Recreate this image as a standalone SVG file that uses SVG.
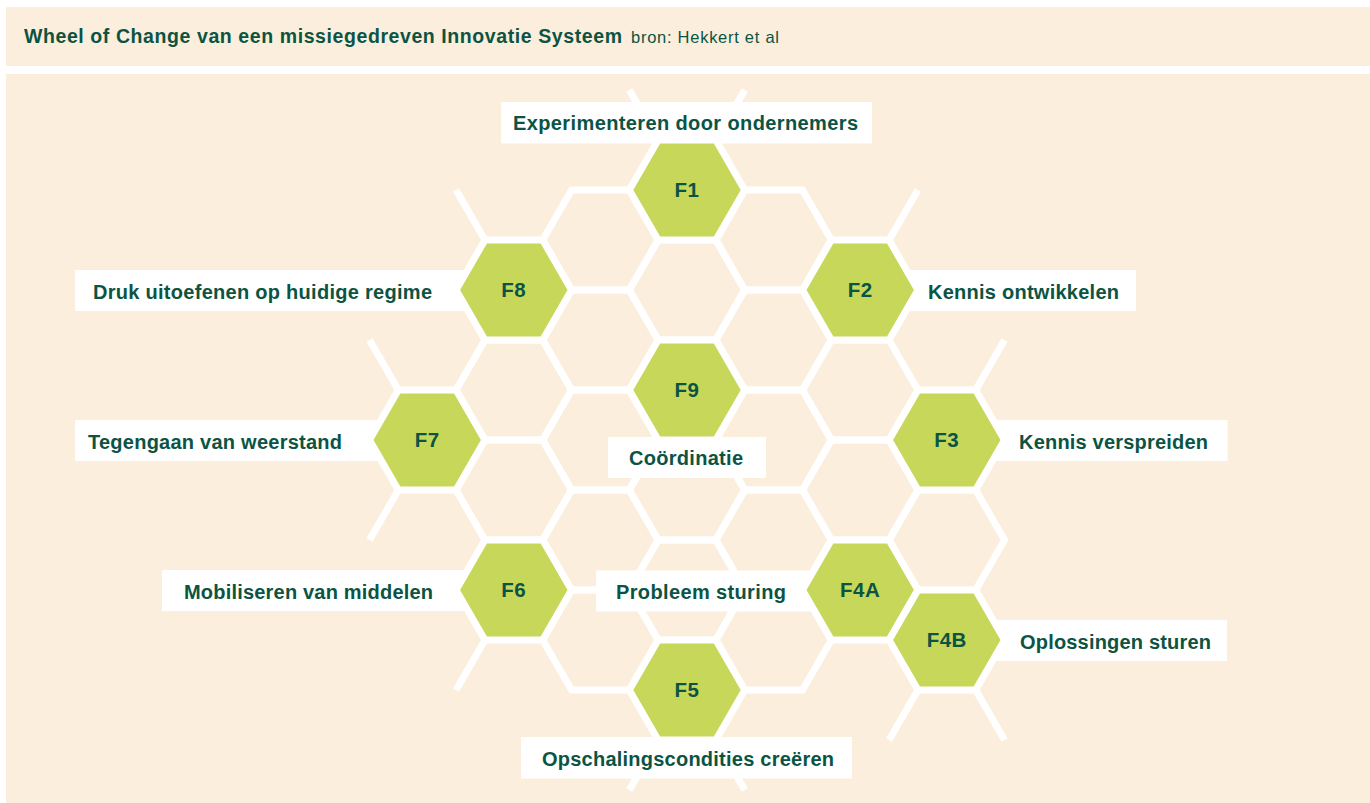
<svg xmlns="http://www.w3.org/2000/svg" xmlns:xlink="http://www.w3.org/1999/xlink" width="1370" height="803" viewBox="0 0 1370 803">
<style>
.panel{fill:#FBEEDC}
.box{fill:#FFFFFF}
.cell{fill:none;stroke:#FFFFFF;stroke-width:7;stroke-linejoin:miter}
.green{fill:#C6D75A;stroke:#FFFFFF;stroke-width:7;stroke-linejoin:miter}
.spoke{stroke:#FFFFFF;stroke-width:7;fill:none}
.lbl{font-family:"Liberation Sans",Arial,sans-serif;font-weight:bold;font-size:20px;fill:#0B5443}
.fl{font-family:"Liberation Sans",Arial,sans-serif;font-weight:bold;font-size:20.5px;fill:#0B5443;text-anchor:middle;letter-spacing:0.5px}
.title{font-family:"Liberation Sans",Arial,sans-serif;font-weight:bold;font-size:19.5px;fill:#0B5443}
.src{font-family:"Liberation Sans",Arial,sans-serif;font-size:16.5px;fill:#0B5443}
</style>
<defs>
<path id="hex" d="M-57.735,0 L-28.868,-50 L28.868,-50 L57.735,0 L28.868,50 L-28.868,50 Z"/>
</defs>
<rect width="1370" height="803" fill="#FFFFFF"/>
<rect class="panel" x="6" y="7" width="1364" height="59"/>
<rect class="panel" x="6" y="74" width="1364" height="729"/>
<g id="title">
<text class="title" x="24" y="43" textLength="598" lengthAdjust="spacing">Wheel of Change van een missiegedreven Innovatie Systeem</text>
<text class="src" x="631" y="43" textLength="148" lengthAdjust="spacing">bron: Hekkert et al</text>
</g>
<g id="label-boxes">
<rect class="box" x="501" y="102" width="371" height="41.5"/>
<rect class="box" x="75" y="270" width="405" height="41"/>
<rect class="box" x="890" y="270" width="246" height="41"/>
<rect class="box" x="75" y="420" width="325" height="41"/>
<rect class="box" x="975" y="420" width="252.5" height="41"/>
<rect class="box" x="608" y="437" width="158" height="41"/>
<rect class="box" x="162" y="570" width="318" height="41"/>
<rect class="box" x="596" y="570.5" width="234" height="41"/>
<rect class="box" x="975" y="620" width="252" height="41"/>
<rect class="box" x="521" y="737" width="331" height="41.5"/>
</g>
<g id="connectors">
<use xlink:href="#hex" class="cell" x="687" y="290"/>
<use xlink:href="#hex" class="cell" x="687" y="490"/>
<use xlink:href="#hex" class="cell" x="687" y="590"/>
<use xlink:href="#hex" class="cell" x="600.4" y="240"/>
<use xlink:href="#hex" class="cell" x="600.4" y="340"/>
<use xlink:href="#hex" class="cell" x="600.4" y="440"/>
<use xlink:href="#hex" class="cell" x="600.4" y="540"/>
<use xlink:href="#hex" class="cell" x="600.4" y="640"/>
<use xlink:href="#hex" class="cell" x="773.6" y="240"/>
<use xlink:href="#hex" class="cell" x="773.6" y="340"/>
<use xlink:href="#hex" class="cell" x="773.6" y="440"/>
<use xlink:href="#hex" class="cell" x="773.6" y="540"/>
<use xlink:href="#hex" class="cell" x="773.6" y="640"/>
<use xlink:href="#hex" class="cell" x="513.8" y="390"/>
<use xlink:href="#hex" class="cell" x="513.8" y="490"/>
<use xlink:href="#hex" class="cell" x="860.2" y="390"/>
<use xlink:href="#hex" class="cell" x="860.2" y="490"/>
<use xlink:href="#hex" class="cell" x="946.8" y="540"/>
<path class="spoke" d="M658.13,140 L629.27,90 M715.87,140 L744.73,90 M484.93,240 L456.07,190 M889.07,240 L917.93,190 M398.33,390 L369.47,340 M398.33,490 L369.47,540 M975.67,390 L1004.53,340 M484.93,640 L456.07,690 M917.93,690 L889.07,740 M975.67,690 L1004.53,740 M658.13,740 L629.27,790 M715.87,740 L744.73,790"/>
</g>
<g id="F1"><use xlink:href="#hex" class="green" x="687" y="190"/><text class="fl" x="687" y="197">F1</text></g>
<g id="F2"><use xlink:href="#hex" class="green" x="860.2" y="290"/><text class="fl" x="860.2" y="297">F2</text></g>
<g id="F3"><use xlink:href="#hex" class="green" x="946.8" y="440"/><text class="fl" x="946.8" y="447">F3</text></g>
<g id="F4A"><use xlink:href="#hex" class="green" x="860.2" y="590"/><text class="fl" x="860.2" y="597">F4A</text></g>
<g id="F4B"><use xlink:href="#hex" class="green" x="946.8" y="640"/><text class="fl" x="946.8" y="647">F4B</text></g>
<g id="F5"><use xlink:href="#hex" class="green" x="687" y="690"/><text class="fl" x="687" y="697">F5</text></g>
<g id="F6"><use xlink:href="#hex" class="green" x="513.8" y="590"/><text class="fl" x="513.8" y="597">F6</text></g>
<g id="F7"><use xlink:href="#hex" class="green" x="427.2" y="440"/><text class="fl" x="427.2" y="447">F7</text></g>
<g id="F8"><use xlink:href="#hex" class="green" x="513.8" y="290"/><text class="fl" x="513.8" y="297">F8</text></g>
<g id="F9"><use xlink:href="#hex" class="green" x="687" y="390"/><text class="fl" x="687" y="397">F9</text></g>
<g id="labels">
<text class="lbl" x="513" y="130" textLength="345" lengthAdjust="spacing">Experimenteren door ondernemers</text>
<text class="lbl" x="93" y="298.5" textLength="339" lengthAdjust="spacing">Druk uitoefenen op huidige regime</text>
<text class="lbl" x="928" y="298.5" textLength="191" lengthAdjust="spacing">Kennis ontwikkelen</text>
<text class="lbl" x="88" y="448.5" textLength="254" lengthAdjust="spacing">Tegengaan van weerstand</text>
<text class="lbl" x="1019" y="448.5" textLength="189" lengthAdjust="spacing">Kennis verspreiden</text>
<text class="lbl" x="629" y="465" textLength="114" lengthAdjust="spacing">Coördinatie</text>
<text class="lbl" x="184" y="598.5" textLength="249" lengthAdjust="spacing">Mobiliseren van middelen</text>
<text class="lbl" x="616" y="598.5" textLength="170" lengthAdjust="spacing">Probleem sturing</text>
<text class="lbl" x="1020" y="648.5" textLength="191" lengthAdjust="spacing">Oplossingen sturen</text>
<text class="lbl" x="542" y="765.5" textLength="292" lengthAdjust="spacing">Opschalingscondities creëren</text>
</g>
</svg>
